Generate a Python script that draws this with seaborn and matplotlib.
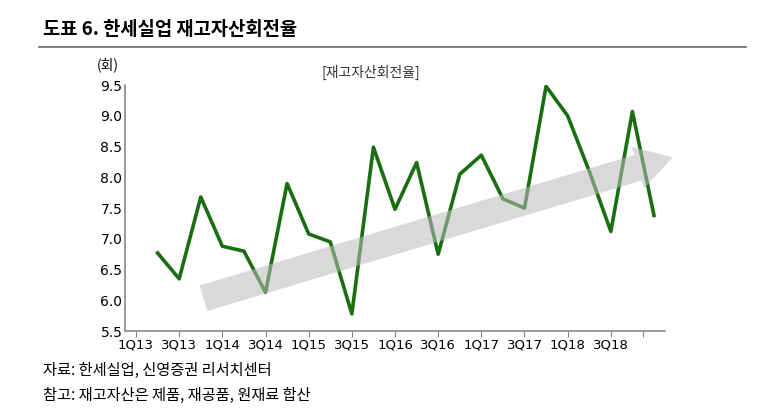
import matplotlib
matplotlib.use('Agg')
import matplotlib.pyplot as plt
import seaborn as sns
import pandas as pd
from matplotlib.patches import FancyArrowPatch
from matplotlib.lines import Line2D

KR = ['Noto Sans CJK KR', 'Noto Sans CJK JP', 'Noto Sans CJK SC', 'DejaVu Sans']
plt.rcParams['font.family'] = 'sans-serif'
plt.rcParams['font.sans-serif'] = KR

# Inventory turnover by quarter (1Q13 ~ 4Q18)
values = [6.77, 6.35, 7.68, 6.88, 6.80, 6.13, 7.90, 7.08, 6.95, 5.78, 8.49, 7.48,
          8.24, 6.75, 8.05, 8.36, 7.65, 7.50, 9.48, 9.00, 8.10, 7.12, 9.07, 7.38]
tick_labels = ['1Q13', '3Q13', '1Q14', '3Q14', '1Q15', '3Q15', '1Q16', '3Q16',
               '1Q17', '3Q17', '1Q18', '3Q18']

df = pd.DataFrame({'idx': range(len(values)), 'turnover': values})

fig = plt.figure(figsize=(7.73, 4.17), dpi=100)
ax = fig.add_axes([0.162, 0.206, 0.698, 0.59])

sns.lineplot(data=df, x='idx', y='turnover', ax=ax, color='#1a6e12', linewidth=2.6)

# trend arrow (semi-transparent, drawn on top)
arrow = FancyArrowPatch((2.0, 6.02), (24.0, 8.34),
                        arrowstyle='simple,head_width=2.6,head_length=2.2,tail_width=1.6',
                        mutation_scale=12, color='#bbbbbb', alpha=0.55, lw=0,
                        zorder=5, clip_on=False)
ax.add_patch(arrow)

ax.set_xlim(-1.5, 23.5)
ax.set_ylim(5.5, 9.5)
ax.set_yticks([5.5, 6.0, 6.5, 7.0, 7.5, 8.0, 8.5, 9.0, 9.5])
ax.set_yticklabels([f'{v:.1f}' for v in ax.get_yticks()], fontsize=10, family='DejaVu Sans')
ticks = [-1 + 2 * k for k in range(len(tick_labels))] + [22.5]
ax.set_xticks(ticks)
ax.set_xticklabels(tick_labels + [''], fontsize=9.5, family='DejaVu Sans')
ax.tick_params(axis='x', length=4, direction='out', color='#888888', pad=1)
ax.tick_params(axis='y', length=0, pad=2)
ax.set_xlabel('')
ax.set_ylabel('')
for s in ['top', 'right']:
    ax.spines[s].set_visible(False)
for s in ['left', 'bottom']:
    ax.spines[s].set_color('#888888')
    ax.spines[s].set_linewidth(1.2)

fig.text(0.125, 0.835, '(회)', fontsize=10, family=KR)
fig.text(0.48, 0.815, '[재고자산회전율]', fontsize=10, ha='center', color='#333333', family=KR)

fig.text(0.055, 0.915, '도표 6. 한세실업 재고자산회전율', fontsize=13.5, fontweight='bold', family=KR)
fig.add_artist(Line2D([0.05, 0.965], [0.887, 0.887], color='#666666', lw=1.2))

fig.text(0.055, 0.1, '자료: 한세실업, 신영증권 리서치센터', fontsize=11, family=KR)
fig.text(0.055, 0.04, '참고: 재고자산은 제품, 재공품, 원재료 합산', fontsize=11, family=KR)

fig.savefig('out.png', dpi=100, facecolor='white')
